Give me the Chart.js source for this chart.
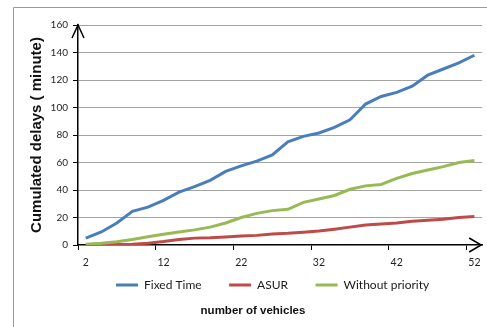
<!DOCTYPE html>
<html><head><meta charset="utf-8">
<script src="https://cdn.jsdelivr.net/npm/chart.js@4/dist/chart.umd.min.js"></script>
<style>html,body{margin:0;padding:0;background:#fff}canvas{display:block}</style>
</head><body>
<canvas id="c" width="487" height="327"></canvas>
<script>
const categories = ['2','4','6','8','10','12','14','16','18','20','22','24','26','28','30','32','34','36','38','40','42','44','46','48','50','52'];
const xTickLabels = ['2','12','22','32','42','52'];
const seriesNames = ['Fixed Time','ASUR','Without priority'];
const fixedTime = [5, 9.5, 16, 24.5, 27.5, 32.5, 38.5, 42.5, 47, 53.5, 57.5, 61, 65.5, 75, 79, 81.5, 85.5, 91, 102.5, 108, 111, 115.5, 123.5, 128, 132.5, 138];
const asur = [0, 0, 0.3, 0.6, 1.3, 2.5, 4, 5, 5.2, 5.8, 6.5, 7, 8, 8.5, 9.3, 10.2, 11.5, 13, 14.5, 15.3, 16, 17.3, 18, 18.8, 20, 20.8];
const withoutPriority = [0.5, 1.2, 2.4, 4, 6, 7.8, 9.5, 11, 13, 16, 20, 23, 25, 26, 31, 33.5, 36, 40.5, 43, 44, 48.5, 52, 54.5, 57, 60, 61.5];
const yTitle = 'Cumulated delays ( minute)';
const xTitle = 'number of vehicles';

const colors = ['#4A7EBB', '#BE4B48', '#98B954'];

const decor = {
  id: 'decor',
  afterLayout(chart) {
    const lg = chart.legend;
    if (lg) {
      const p = lg.options.labels.padding;
      lg.left = 116 - p;
      lg.top = 285 - p - 6;
      lg.bottom = 300;
      lg.height = lg.bottom - lg.top;
    }
  },
  beforeDraw(chart) {
    const ctx = chart.ctx;
    ctx.save();
    ctx.strokeStyle = '#9a9a9a';
    ctx.lineWidth = 1;
    ctx.beginPath();
    ctx.moveTo(13.5, 327);
    ctx.lineTo(13.5, 7.5);
    ctx.lineTo(487, 7.5);
    ctx.stroke();
    ctx.restore();
  },
  afterDraw(chart) {
    const ctx = chart.ctx, a = chart.chartArea;
    ctx.save();
    ctx.strokeStyle = '#000';
    ctx.lineWidth = 1.5;
    ctx.beginPath();
    ctx.moveTo(a.left - 6, a.top + 13);
    ctx.lineTo(a.left, a.top);
    ctx.lineTo(a.left + 6, a.top + 13);
    ctx.moveTo(a.right - 13, a.bottom - 7);
    ctx.lineTo(a.right - 1, a.bottom);
    ctx.lineTo(a.right - 13, a.bottom + 7);
    ctx.stroke();
    ctx.restore();
  }
};

const seriesData = [fixedTime, asur, withoutPriority];
new Chart(document.getElementById('c'), {
  type: 'line',
  data: {
    labels: categories,
    datasets: seriesData.map((d, i) => ({
      label: seriesNames[i],
      data: d,
      borderColor: colors[i],
      backgroundColor: colors[i],
      borderWidth: 3,
      pointRadius: 0,
      tension: 0,
      order: 3 - i
    }))
  },
  options: {
    responsive: false,
    animation: false,
    layout: { padding: { left: 20, top: 25, right: 1, bottom: 0 } },
    scales: {
      x: {
        type: 'category',
        offset: true,
        afterFit(s) { s.height = 25; },
        grid: {
          offset: true,
          drawOnChartArea: false,
          drawTicks: true,
          tickLength: 5,
          tickWidth: 1,
          tickColor: (c) => (c.index % 5 === 0 ? '#000' : 'rgba(0,0,0,0)')
        },
        border: { display: true, color: '#000', width: 1.5 },
        ticks: {
          autoSkip: false,
          maxRotation: 0,
          padding: 6.5,
          color: '#1f1f1f',
          font: { family: 'Lato', size: 10.5 },
          callback: (v, i) => (xTickLabels.includes(categories[i]) ? categories[i] : '')
        }
      },
      y: {
        min: 0, max: 160,
        afterFit(s) { s.width = 58; },
        ticks: { stepSize: 20, padding: 5, color: '#1f1f1f', font: { family: 'Lato', size: 10 } },
        grid: {
          color: (c) => (c.tick && c.tick.value === 0 ? 'rgba(0,0,0,0)' : '#a3a3a3'),
          lineWidth: 1,
          tickColor: '#000',
          tickLength: 5
        },
        border: { display: true, color: '#000', width: 1.5 },
        title: {
          display: true,
          text: yTitle,
          color: '#111',
          font: { family: 'Liberation Sans', size: 15, weight: 'bold' },
          padding: { top: 7.5, bottom: 0 }
        }
      }
    },
    plugins: {
      tooltip: { enabled: false },
      legend: {
        display: true,
        position: 'bottom',
        align: 'start',
        maxHeight: 30,
        labels: {
          boxWidth: 22,
          boxHeight: 3,
          padding: 27.5,
          color: '#1a1a1a',
          font: { family: 'Lato', size: 12 },
          sort: (a, b) => a.datasetIndex - b.datasetIndex,
          generateLabels(chart) {
            const items = Chart.defaults.plugins.legend.labels.generateLabels(chart);
            items.forEach(it => { it.lineWidth = 0; it.fillStyle = colors[it.datasetIndex]; });
            return items;
          }
        }
      },
      title: {
        display: true,
        text: xTitle,
        position: 'bottom',
        color: '#111',
        font: { family: 'Liberation Sans', size: 11.5, weight: 'bold' },
        padding: { top: 4.1, bottom: 9.1 }
      }
    }
  },
  plugins: [decor]
});
</script>
</body></html>
